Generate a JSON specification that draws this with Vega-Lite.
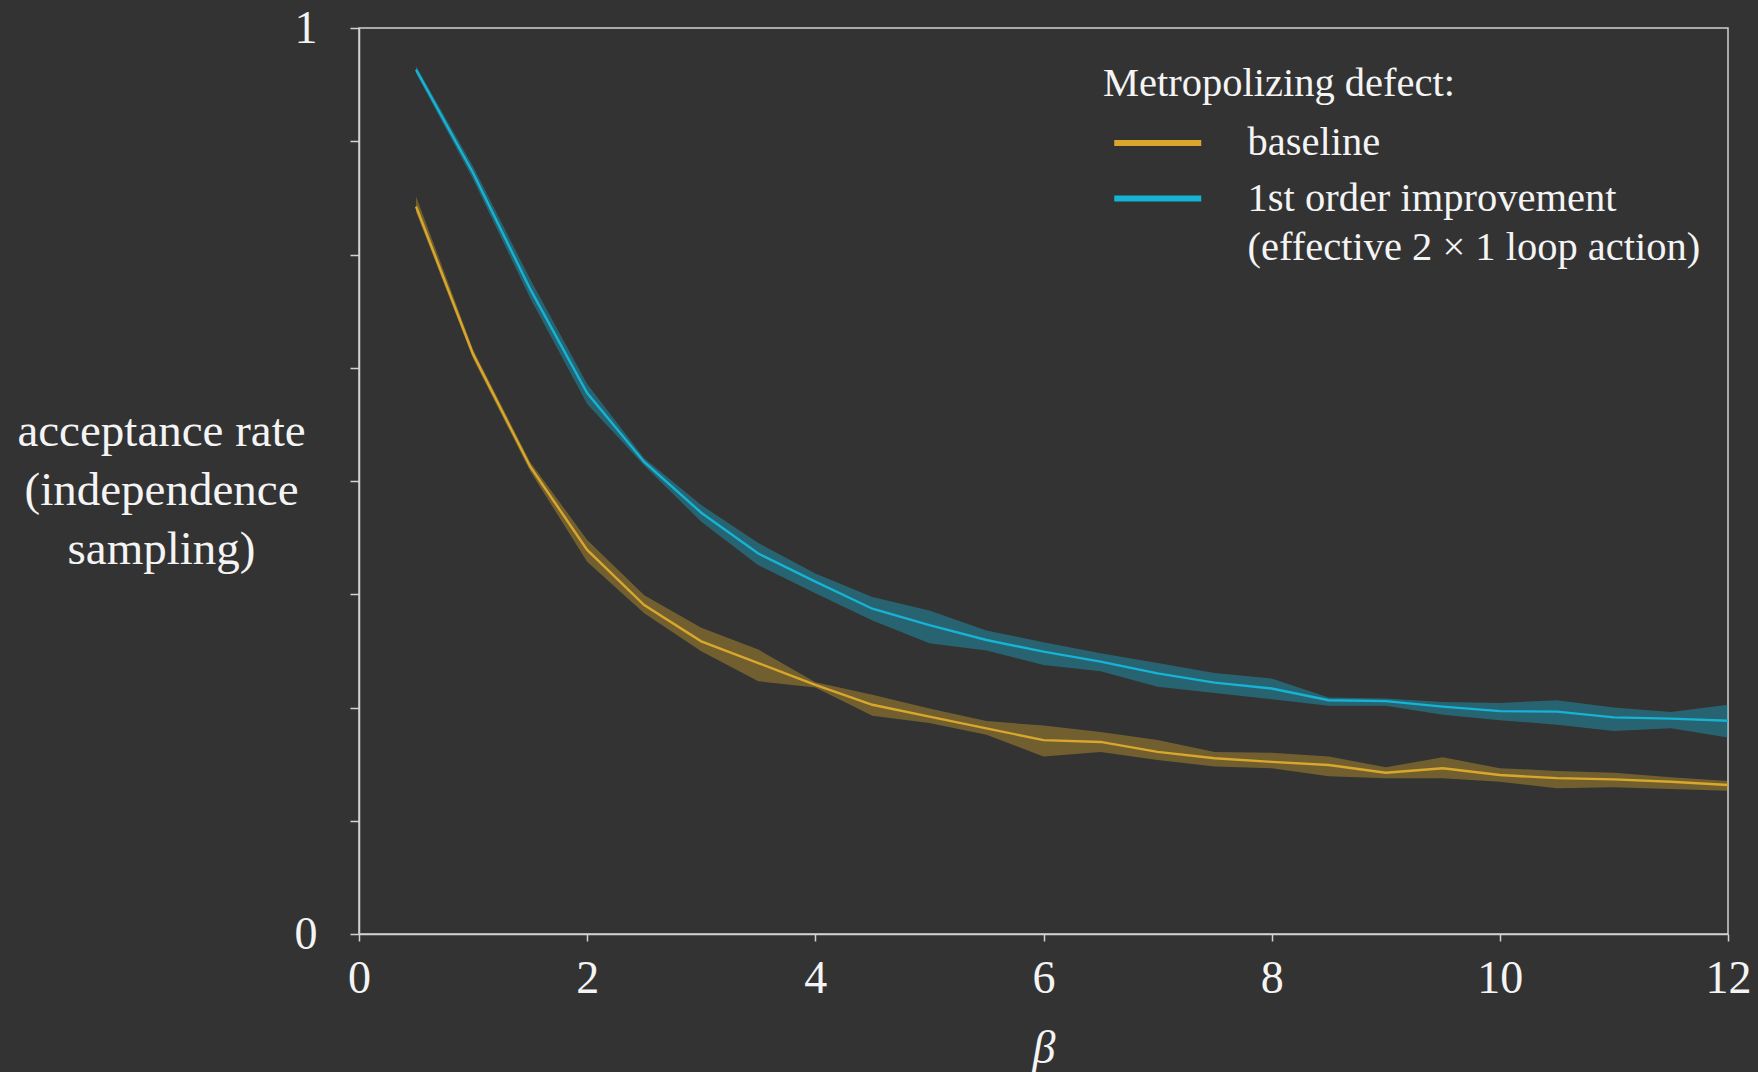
{
  "$schema": "https://vega.github.io/schema/vega-lite/v6.json",
  "width": 1369,
  "height": 906,
  "autosize": {"type": "none"},
  "padding": {"left": 359, "top": 28, "right": 30, "bottom": 138},
  "background": "#333333",
  "config": {
    "font": "Liberation Serif",
    "view": {"stroke": "#d2d2d2", "strokeWidth": 1.5},
    "style": {"guide-label": {"lineHeight": 49}}
  },
  "data": {
    "values": [
      {"beta": 0.5, "series": "baseline", "mean": 0.803, "lo": 0.797, "hi": 0.814},
      {"beta": 1.0, "series": "baseline", "mean": 0.640, "lo": 0.635, "hi": 0.645},
      {"beta": 1.5, "series": "baseline", "mean": 0.516, "lo": 0.511, "hi": 0.521},
      {"beta": 2.0, "series": "baseline", "mean": 0.424, "lo": 0.411, "hi": 0.435},
      {"beta": 2.5, "series": "baseline", "mean": 0.363, "lo": 0.354, "hi": 0.374},
      {"beta": 3.0, "series": "baseline", "mean": 0.323, "lo": 0.312, "hi": 0.338},
      {"beta": 3.5, "series": "baseline", "mean": 0.299, "lo": 0.279, "hi": 0.314},
      {"beta": 4.0, "series": "baseline", "mean": 0.275, "lo": 0.272, "hi": 0.278},
      {"beta": 4.5, "series": "baseline", "mean": 0.253, "lo": 0.241, "hi": 0.264},
      {"beta": 5.0, "series": "baseline", "mean": 0.240, "lo": 0.233, "hi": 0.249},
      {"beta": 5.5, "series": "baseline", "mean": 0.227, "lo": 0.220, "hi": 0.235},
      {"beta": 6.0, "series": "baseline", "mean": 0.214, "lo": 0.196, "hi": 0.230},
      {"beta": 6.5, "series": "baseline", "mean": 0.212, "lo": 0.201, "hi": 0.223},
      {"beta": 7.0, "series": "baseline", "mean": 0.201, "lo": 0.192, "hi": 0.214},
      {"beta": 7.5, "series": "baseline", "mean": 0.194, "lo": 0.185, "hi": 0.201},
      {"beta": 8.0, "series": "baseline", "mean": 0.190, "lo": 0.183, "hi": 0.200},
      {"beta": 8.5, "series": "baseline", "mean": 0.1865, "lo": 0.174, "hi": 0.196},
      {"beta": 9.0, "series": "baseline", "mean": 0.178, "lo": 0.172, "hi": 0.184},
      {"beta": 9.5, "series": "baseline", "mean": 0.183, "lo": 0.172, "hi": 0.195},
      {"beta": 10.0, "series": "baseline", "mean": 0.1755, "lo": 0.168, "hi": 0.183},
      {"beta": 10.5, "series": "baseline", "mean": 0.172, "lo": 0.161, "hi": 0.180},
      {"beta": 11.0, "series": "baseline", "mean": 0.1707, "lo": 0.162, "hi": 0.178},
      {"beta": 11.5, "series": "baseline", "mean": 0.168, "lo": 0.160, "hi": 0.173},
      {"beta": 12.0, "series": "baseline", "mean": 0.1645, "lo": 0.158, "hi": 0.169},
      {"beta": 0.5, "series": "improved", "mean": 0.954, "lo": 0.950, "hi": 0.958},
      {"beta": 1.0, "series": "improved", "mean": 0.840, "lo": 0.833, "hi": 0.847},
      {"beta": 1.5, "series": "improved", "mean": 0.712, "lo": 0.702, "hi": 0.723},
      {"beta": 2.0, "series": "improved", "mean": 0.597, "lo": 0.585, "hi": 0.607},
      {"beta": 2.5, "series": "improved", "mean": 0.521, "lo": 0.517, "hi": 0.525},
      {"beta": 3.0, "series": "improved", "mean": 0.465, "lo": 0.455, "hi": 0.4735},
      {"beta": 3.5, "series": "improved", "mean": 0.420, "lo": 0.407, "hi": 0.4315},
      {"beta": 4.0, "series": "improved", "mean": 0.389, "lo": 0.376, "hi": 0.398},
      {"beta": 4.5, "series": "improved", "mean": 0.359, "lo": 0.346, "hi": 0.372},
      {"beta": 5.0, "series": "improved", "mean": 0.341, "lo": 0.321, "hi": 0.357},
      {"beta": 5.5, "series": "improved", "mean": 0.3245, "lo": 0.313, "hi": 0.335},
      {"beta": 6.0, "series": "improved", "mean": 0.3116, "lo": 0.297, "hi": 0.322},
      {"beta": 6.5, "series": "improved", "mean": 0.3006, "lo": 0.290, "hi": 0.310},
      {"beta": 7.0, "series": "improved", "mean": 0.2877, "lo": 0.273, "hi": 0.299},
      {"beta": 7.5, "series": "improved", "mean": 0.2774, "lo": 0.266, "hi": 0.288},
      {"beta": 8.0, "series": "improved", "mean": 0.271, "lo": 0.259, "hi": 0.282},
      {"beta": 8.5, "series": "improved", "mean": 0.258, "lo": 0.252, "hi": 0.261},
      {"beta": 9.0, "series": "improved", "mean": 0.257, "lo": 0.252, "hi": 0.260},
      {"beta": 9.5, "series": "improved", "mean": 0.251, "lo": 0.242, "hi": 0.256},
      {"beta": 10.0, "series": "improved", "mean": 0.246, "lo": 0.236, "hi": 0.255},
      {"beta": 10.5, "series": "improved", "mean": 0.2454, "lo": 0.231, "hi": 0.258},
      {"beta": 11.0, "series": "improved", "mean": 0.2391, "lo": 0.224, "hi": 0.250},
      {"beta": 11.5, "series": "improved", "mean": 0.2377, "lo": 0.227, "hi": 0.245},
      {"beta": 12.0, "series": "improved", "mean": 0.2354, "lo": 0.217, "hi": 0.253}
    ]
  },
  "encoding": {
    "x": {
      "field": "beta",
      "type": "quantitative",
      "scale": {"domain": [0, 12], "nice": false, "zero": false},
      "axis": {
        "values": [0, 2, 4, 6, 8, 10, 12],
        "grid": false,
        "labelFlush": false,
        "domainColor": "#d2d2d2",
        "domainWidth": 1.5,
        "tickColor": "#d2d2d2",
        "tickWidth": 1.5,
        "tickSize": 7,
        "labelColor": "#f4f4f4",
        "labelFont": "Liberation Serif",
        "labelFontSize": 46,
        "labelPadding": 15,
        "title": "β",
        "titleFont": "Liberation Serif",
        "titleFontStyle": "italic",
        "titleFontWeight": "normal",
        "titleFontSize": 46,
        "titleColor": "#f4f4f4",
        "titleBaseline": "alphabetic",
        "titleY": 128
      }
    }
  },
  "layer": [
    {
      "mark": {"type": "area", "opacity": 0.38},
      "encoding": {
        "y": {
          "field": "lo",
          "type": "quantitative",
          "scale": {"domain": [0, 1], "nice": false},
          "axis": {
            "values": [0, 0.125, 0.25, 0.375, 0.5, 0.625, 0.75, 0.875, 1],
            "labelExpr": "datum.value == 0 ? '0' : datum.value == 1 ? '1' : ''",
            "grid": false,
            "domainColor": "#d2d2d2",
            "domainWidth": 1.5,
            "tickColor": "#d2d2d2",
            "tickWidth": 1.5,
            "tickSize": 9,
            "labelColor": "#f4f4f4",
            "labelFont": "Liberation Serif",
            "labelFontSize": 46,
            "labelPadding": 33,
            "title": ["acceptance rate", "(independence", "sampling)"],
            "titleFont": "Liberation Serif",
            "titleFontWeight": "normal",
            "titleFontSize": 47,
            "titleColor": "#f4f4f4",
            "titleAngle": 0,
            "titleAlign": "center",
            "titleBaseline": "middle",
            "titleLineHeight": 59,
            "titleX": -198,
            "titleY": 403
          }
        },
        "y2": {"field": "hi"},
        "color": {
          "field": "series",
          "type": "nominal",
          "scale": {"domain": ["baseline", "improved"], "range": ["#d9a72c", "#16b3d4"]},
          "legend": null
        }
      }
    },
    {
      "mark": {"type": "line", "strokeWidth": 2.4},
      "encoding": {
        "y": {"field": "mean", "type": "quantitative"},
        "color": {
          "field": "series",
          "type": "nominal",
          "scale": {"domain": ["baseline", "improved"], "range": ["#d9a72c", "#16b3d4"]},
          "legend": {
            "orient": "none",
            "legendX": 744,
            "legendY": 36,
            "padding": 0,
            "title": "Metropolizing defect:",
            "titleFont": "Liberation Serif",
            "titleFontSize": 40.5,
            "titleFontWeight": "normal",
            "titleColor": "#f4f4f4",
            "titleLimit": 1000,
            "titlePadding": 13.5,
            "labelFont": "Liberation Serif",
            "labelFontSize": 40.5,
            "labelColor": "#f4f4f4",
            "labelLimit": 1000,
            "labelBaseline": "middle",
            "labelOffset": 64.75,
            "labelExpr": "datum.value == 'baseline' ? 'baseline' : ['1st order improvement', '(effective 2 × 1 loop action)']",
            "symbolType": "M-2,0H2",
            "symbolSize": 1892,
            "symbolStrokeWidth": 6,
            "symbolOffset": 29.75,
            "rowPadding": 9.5
          }
        }
      }
    }
  ],
  "resolve": {"legend": {"color": "independent"}}
}
